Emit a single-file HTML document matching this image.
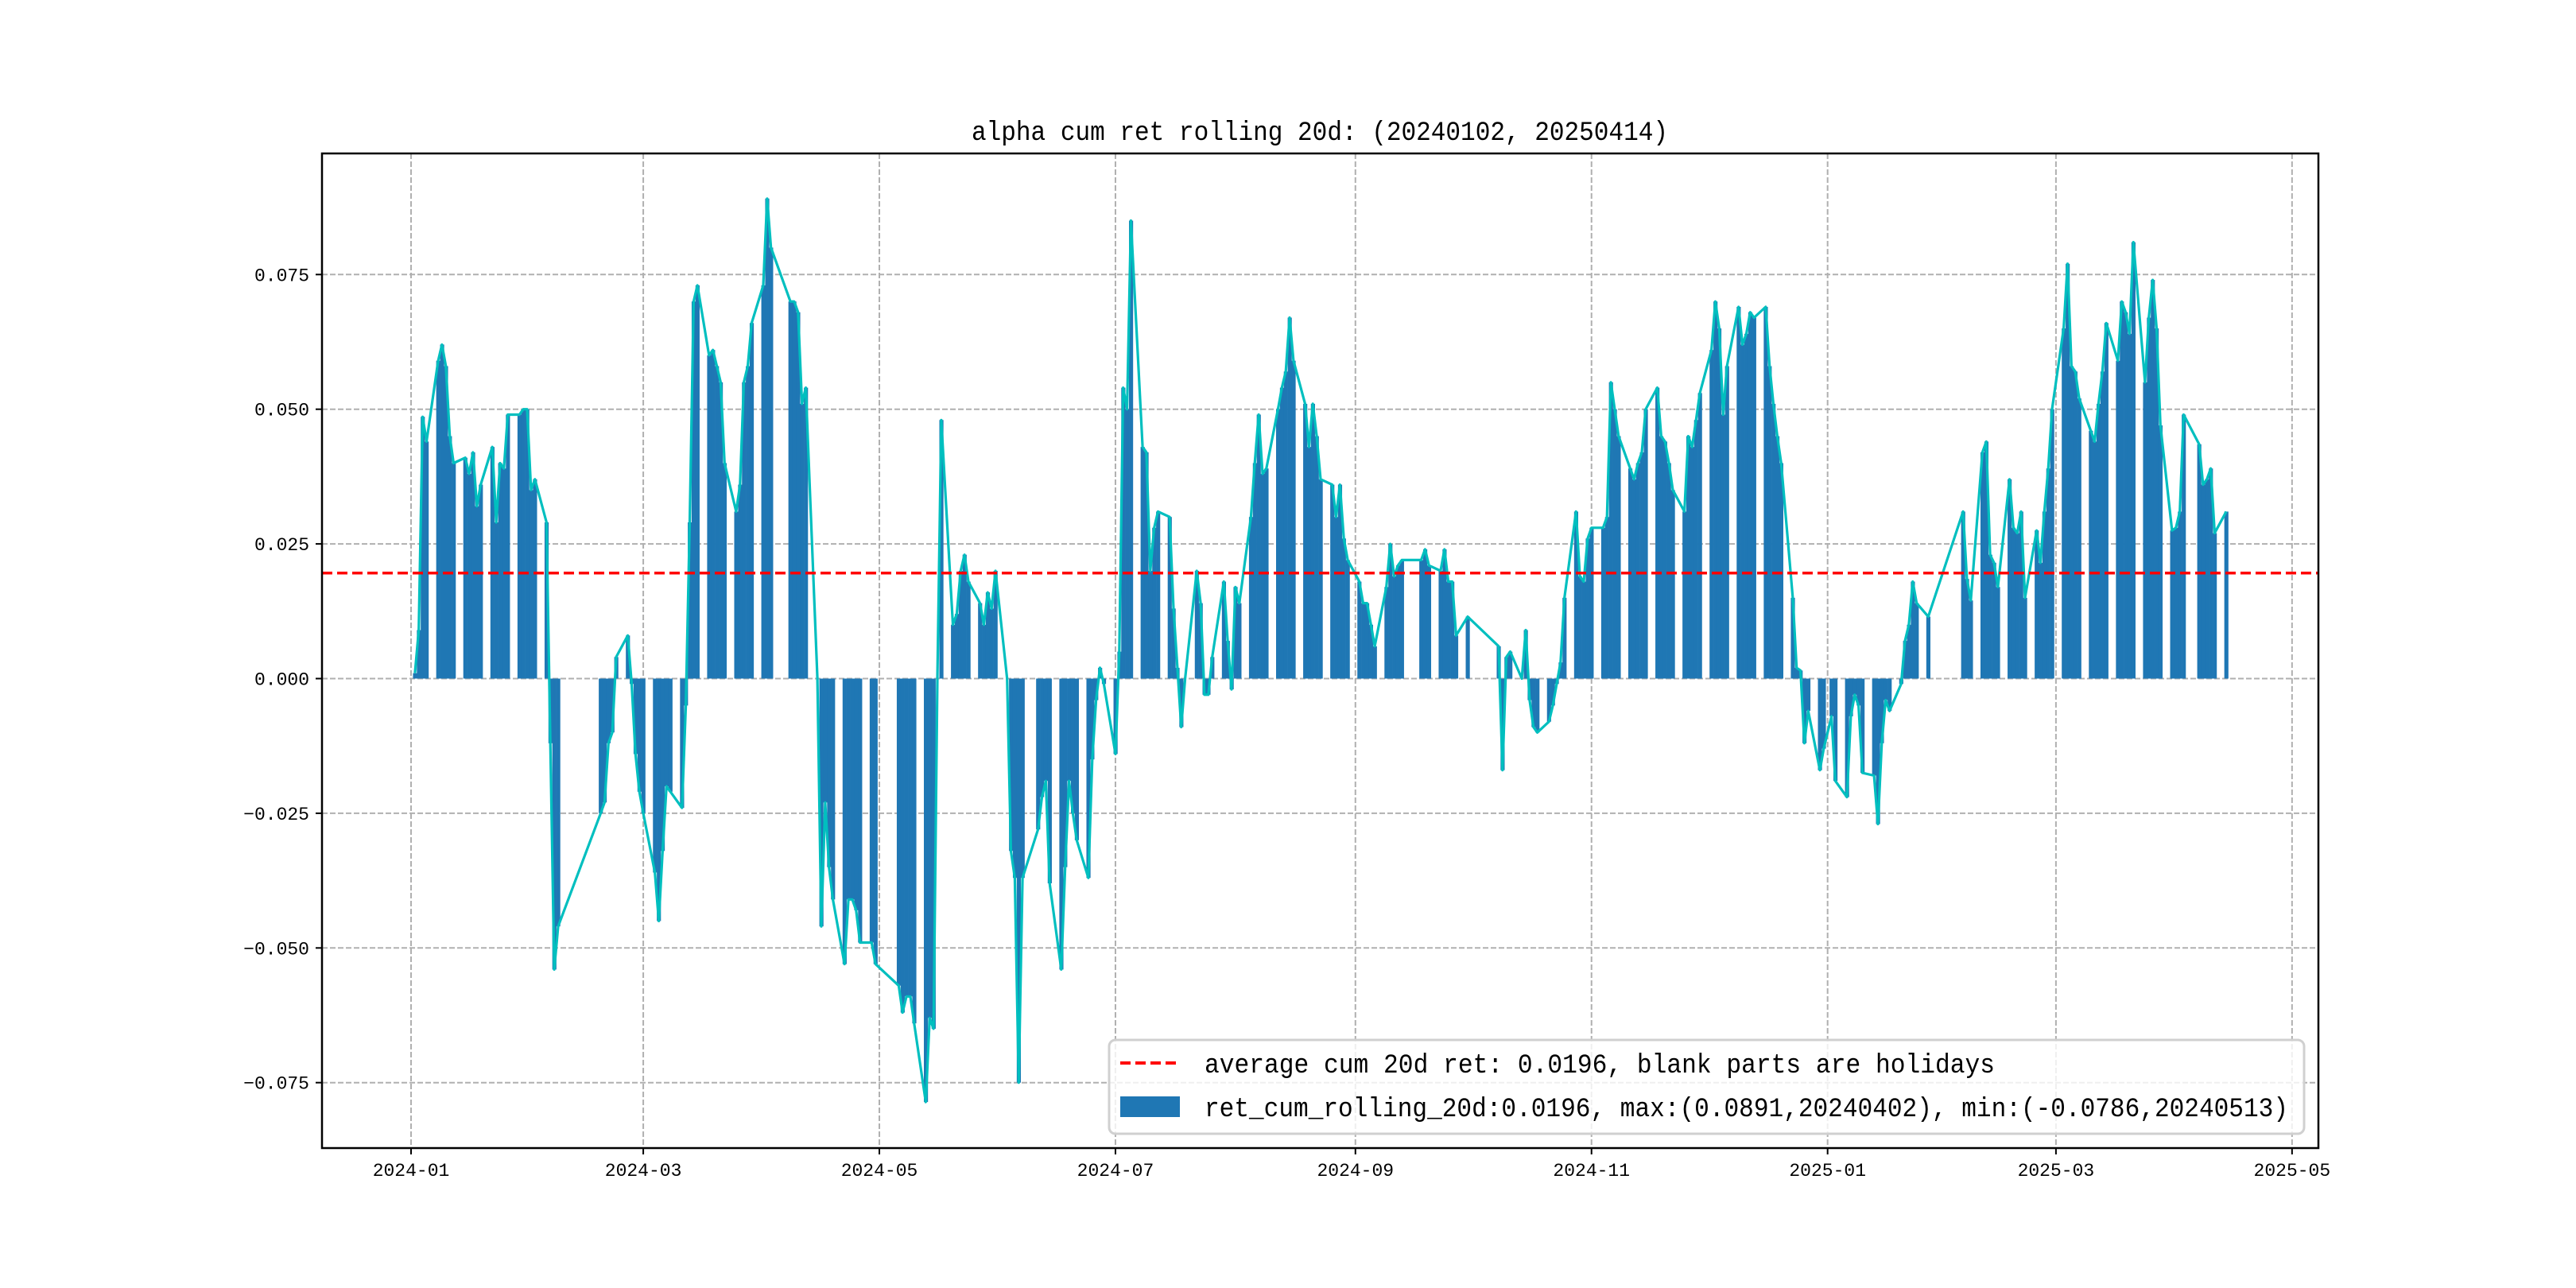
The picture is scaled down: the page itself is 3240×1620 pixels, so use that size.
<!DOCTYPE html>
<html><head><meta charset="utf-8"><style>
html,body{margin:0;padding:0;background:#fff;}
svg{display:block;}
text{font-family:"Liberation Mono","Noto Sans CJK SC",monospace;fill:#000;}
</style></head><body>
<svg id="chart" width="3240" height="1620" viewBox="0 0 3240 1620" xmlns="http://www.w3.org/2000/svg">
<rect x="0" y="0" width="3240" height="1620" fill="#fff"/>
<text x="1660" y="176" font-size="34" text-anchor="middle" textLength="876" lengthAdjust="spacingAndGlyphs">alpha cum ret rolling 20d: (20240102, 20250414)</text>
<g id="grid"></g>
<g id="bars"></g>
<g id="lines"></g>
<g id="axes"></g>
<g id="legend">
<rect x="1395" y="1308" width="1503" height="118" rx="8" fill="#fff" fill-opacity="0.8" stroke="#d0d0d0" stroke-width="3"/>
<line x1="1409" y1="1337" x2="1483" y2="1337" stroke="#ff0000" stroke-width="4" stroke-dasharray="13,6"/>
<text x="1515" y="1349" font-size="34" textLength="994" lengthAdjust="spacingAndGlyphs">average cum 20d ret: 0.0196, blank parts are holidays</text>
<rect x="1409" y="1379" width="75" height="26" fill="#1f77b4"/>
<text x="1515" y="1404" font-size="34" textLength="1363" lengthAdjust="spacingAndGlyphs">ret_cum_rolling_20d:0.0196, max:(0.0891,20240402), min:(-0.0786,20240513)</text>
</g>
</svg>
<script>
const holidays = ["2024-01-01","2024-02-09","2024-02-12","2024-02-13","2024-02-14","2024-02-15","2024-02-16","2024-04-04","2024-04-05","2024-05-01","2024-05-02","2024-05-03","2024-06-10","2024-09-16","2024-09-17","2024-10-01","2024-10-02","2024-10-03","2024-10-04","2024-10-07","2025-01-01","2025-01-28","2025-01-29","2025-01-30","2025-01-31","2025-02-03","2025-02-04","2025-04-04"];
const startDate = "2024-01-02";
const endDate = "2025-04-14";
const values = [
0.001,0.009,0.0486,0.044,
0.059,0.062,0.058,0.045,0.040,
0.041,0.038,0.042,0.032,0.036,
0.043,0.029,0.040,0.039,0.049,
0.049,0.050,0.050,0.035,0.037,
0.029,-0.012,-0.054,-0.046,
-0.025,-0.023,-0.012,-0.010,0.004,
0.008,-0.001,-0.014,-0.021,-0.025,
-0.036,-0.045,-0.032,-0.020,-0.021,
-0.024,-0.005,0.029,0.070,0.073,
0.060,0.061,0.058,0.055,0.040,
0.031,0.036,0.055,0.058,0.066,
0.073,0.0891,0.080,
0.070,0.070,0.068,0.051,0.054,
0.000,-0.046,-0.023,-0.035,-0.041,
-0.053,-0.041,-0.041,-0.043,-0.049,
-0.049,-0.053,
-0.057,-0.062,-0.059,-0.059,-0.064,
-0.0786,-0.063,-0.065,0.000,0.048,
0.010,0.012,0.020,0.023,0.018,
0.014,0.010,0.016,0.013,0.020,
0.000,-0.032,-0.037,-0.075,-0.037,
-0.028,-0.022,-0.019,-0.038,
-0.054,-0.035,-0.019,-0.025,-0.030,
-0.037,-0.015,-0.004,0.002,-0.001,
-0.014,0.005,0.054,0.050,0.085,
0.043,0.042,0.020,0.028,0.031,
0.030,0.013,0.002,-0.009,0.000,
0.020,0.014,-0.003,-0.003,0.004,
0.018,0.007,-0.002,0.017,0.014,
0.030,0.040,0.049,0.038,0.039,
0.050,0.054,0.057,0.067,0.059,
0.051,0.043,0.051,0.045,0.037,
0.036,0.030,0.036,0.026,0.022,
0.018,0.014,0.014,0.010,0.006,
0.017,0.025,0.019,0.021,0.022,
0.022,0.024,0.021,
0.020,0.024,0.018,0.018,0.008,
0.0115,
0.006,-0.017,0.004,0.005,
0.000,0.009,-0.004,-0.009,-0.010,
-0.008,-0.005,-0.001,0.003,0.015,
0.031,0.019,0.018,0.026,0.028,
0.028,0.030,0.055,0.050,0.045,
0.039,0.037,0.040,0.042,0.050,
0.054,0.045,0.044,0.040,0.035,
0.031,0.045,0.043,0.048,0.053,
0.061,0.070,0.065,0.049,0.058,
0.069,0.062,0.064,0.068,0.067,
0.069,0.058,0.051,0.045,0.040,
0.015,0.002,0.0015,-0.012,-0.006,
-0.017,-0.013,
-0.007,-0.019,
-0.022,-0.007,-0.003,-0.005,-0.0175,
-0.018,-0.027,-0.012,-0.004,-0.006,
-0.001,0.007,0.010,0.018,0.014,
0.0115,
0.031,0.0185,0.0145,
0.042,0.044,0.023,0.0215,0.017,
0.037,0.028,0.027,0.031,0.015,
0.0275,0.0215,0.031,0.039,0.050,
0.065,0.077,0.058,0.057,0.052,
0.046,0.044,0.051,0.057,0.066,
0.059,0.070,0.068,0.064,0.081,
0.055,0.067,0.074,0.065,0.047,
0.0275,0.028,0.031,0.049,
0.0435,0.036,0.037,0.039,0.027,
0.031
];
const meanValue = 0.0196;
const yTicks = [-0.075,-0.050,-0.025,0.000,0.025,0.050,0.075];
const yTickLabels = ["−0.075","−0.050","−0.025","0.000","0.025","0.050","0.075"];
const xTicks = ["2024-01-01","2024-03-01","2024-05-01","2024-07-01","2024-09-01","2024-11-01","2025-01-01","2025-03-01","2025-05-01"];
const xTickLabels = ["2024-01","2024-03","2024-05","2024-07","2024-09","2024-11","2025-01","2025-03","2025-05"];

const NS = "http://www.w3.org/2000/svg";
const L = 405, R = 2916, T = 193, B = 1444;
const DAY = 86400000;
const origin = Date.UTC(2024,0,1);
function dayNum(s){const p=s.split("-").map(Number);return (Date.UTC(p[0],p[1]-1,p[2])-origin)/DAY;}
const pxPerDay = 4.868;
function xs(d){return 517 + d*pxPerDay;}
function ys(v){return 853.5 - v/0.025*169.4;}
function mk(tag, attrs, parent){const e=document.createElementNS(NS,tag);for(const k in attrs)e.setAttribute(k,attrs[k]);parent.appendChild(e);return e;}

// trading days
const dates = [];
const hol = new Set(holidays);
for(let d=dayNum(startDate); d<=dayNum(endDate); d++){
  const dt = new Date(origin + d*DAY);
  const wd = dt.getUTCDay();
  const s = dt.toISOString().slice(0,10);
  if(wd===0||wd===6||hol.has(s)) continue;
  dates.push(d);
}
const n = Math.min(dates.length, values.length);

const grid = document.getElementById("grid");
const axes = document.getElementById("axes");
const bars = document.getElementById("bars");
const lines = document.getElementById("lines");

yTicks.forEach((v,i)=>{
  const y = ys(v);
  const g = mk("line",{x1:L,x2:R,y1:y,y2:y,stroke:"#b0b0b0","stroke-width":2,"stroke-dasharray":"7,3"},grid);
  
  
  const t = mk("line",{x1:L-8,x2:L,y1:y,y2:y,stroke:"#000","stroke-width":2},axes);
  
  
  const lb = mk("text",{x:L-16,y:y+8,"font-size":23,"text-anchor":"end"},axes);
  lb.textContent = yTickLabels[i];
  
  
});
xTicks.forEach((s,i)=>{
  const x = xs(dayNum(s));
  const g = mk("line",{x1:x,x2:x,y1:T,y2:B,stroke:"#b0b0b0","stroke-width":2,"stroke-dasharray":"7,3"},grid);
  
  
  const t = mk("line",{x1:x,x2:x,y1:B,y2:B+8,stroke:"#000","stroke-width":2},axes);
  
  
  const lb = mk("text",{x:x,y:B+35,"font-size":23,"text-anchor":"middle"},axes);
  lb.textContent = xTickLabels[i];
  
  
});

for(let i=0;i<n;i++){
  const x = xs(dates[i]);
  const y0 = ys(0), y1 = ys(values[i]);
  const r = mk("rect",{x:x-pxPerDay/2,width:pxPerDay+0.3,y:Math.min(y0,y1),height:Math.abs(y1-y0),fill:"#1f77b4"},bars);
  
  
}
let pts = [];
for(let i=0;i<n;i++) pts.push(xs(dates[i]).toFixed(1)+","+ys(values[i]).toFixed(1));
const pl = mk("polyline",{points:pts.join(" "),fill:"none",stroke:"#00bfbf","stroke-width":3.2,"stroke-linejoin":"round"},lines);


const ym = ys(meanValue);
const ml = mk("line",{x1:L,x2:R,y1:ym,y2:ym,stroke:"#ff0000","stroke-width":3.5,"stroke-dasharray":"13,6"},lines);



const frame = mk("rect",{x:L,y:T,width:R-L,height:B-T,fill:"none",stroke:"#000","stroke-width":2.5},axes);


// legend on top
document.getElementById("chart").appendChild(document.getElementById("legend"));
</script>
</body></html>
